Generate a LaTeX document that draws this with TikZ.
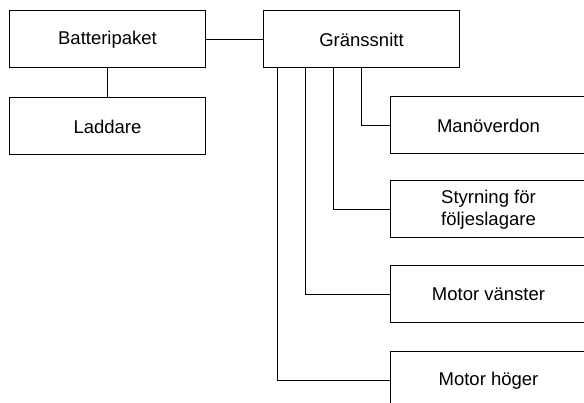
\documentclass[tikz,border=0pt]{standalone}
\usepackage{fontspec}
\setmainfont{Liberation Sans}
\usetikzlibrary{positioning}

\begin{document}
\begin{tikzpicture}[x=1pt, y=-1pt,
  font=\fontsize{18.5}{22}\selectfont,
  blk/.style={draw, line width=1pt, align=center,
  minimum width=196pt, minimum height=57pt, inner sep=2pt},
  link/.style={line width=1pt}, node distance=27pt]
\useasboundingbox (0,0) rectangle (584,403);
\node[blk] (batteri) at (107.5,39.5) {Batteripaket};
\node[blk,below=29pt of batteri] (laddare) {Laddare};
\node[blk,right=57pt of batteri] (granssnitt) {Gränssnitt};
\node[blk,below right=28pt and -70pt of granssnitt] (manoverdon) {Manöverdon};
\node[blk,below=26pt of manoverdon] (styrning) {Styrning för\\följeslagare};
\node[blk,below=of styrning] (motorv) {Motor vänster};
\node[blk,below=28pt of motorv] (motorh) {Motor höger};
\draw[link] (batteri) -- (laddare);
\draw[link] (batteri) -- (granssnitt);
\draw[link] (granssnitt.south) |- (manoverdon);
\draw[link] ([xshift=-28pt]granssnitt.south) |- (styrning);
\draw[link] ([xshift=-56pt]granssnitt.south) |- (motorv);
\draw[link] ([xshift=-84pt]granssnitt.south) |- (motorh);
\end{tikzpicture}
\end{document}
